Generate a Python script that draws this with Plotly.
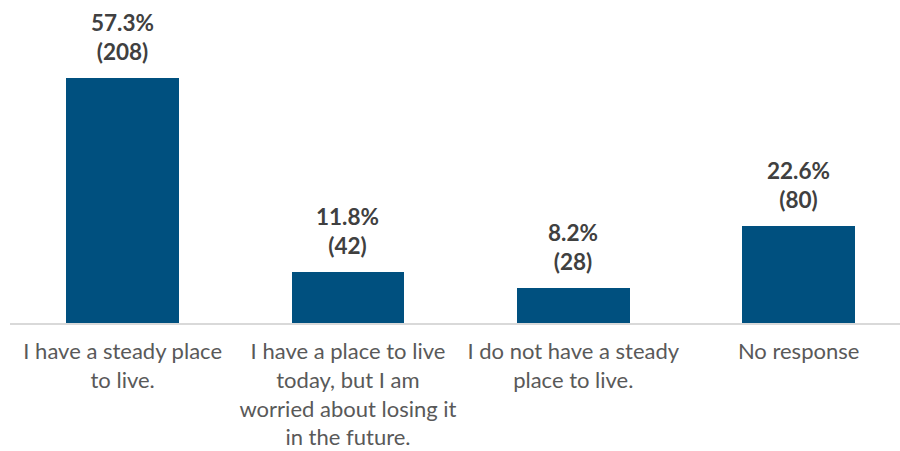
import plotly.graph_objects as go

categories = [
    "I have a steady place<br>to live.",
    "I have a place to live<br>today, but I am<br>worried about losing it<br>in the future.",
    "I do not have a steady<br>place to live.",
    "No response",
]
percents = [57.3, 11.8, 8.2, 22.6]
counts = [208, 42, 28, 80]

fig = go.Figure()
fig.add_trace(go.Bar(
    x=list(range(len(categories))),
    y=percents,
    width=0.5,
    marker=dict(color="#00507F", line=dict(width=0)),
    hoverinfo="skip",
))

for i, (p, c) in enumerate(zip(percents, counts)):
    fig.add_annotation(
        x=i, y=p, xref="x", yref="y",
        text=f"<b>{p:.1f}%<br>({c})</b>",
        showarrow=False, yanchor="bottom", yshift=11,
        font=dict(family="Lato", size=22.5, color="#404040"),
    )

fig.update_layout(
    width=900, height=451,
    margin=dict(l=10, r=0, t=0, b=128),
    plot_bgcolor="white", paper_bgcolor="white",
    showlegend=False,
    bargap=0,
    font=dict(family="Lato", size=22, color="#595959"),
)
fig.update_xaxes(
    tickmode="array",
    tickvals=list(range(len(categories))),
    ticktext=categories,
    range=[-0.5, 3.45],
    showline=True, linecolor="#D9D9D9", linewidth=2,
    showgrid=False, ticks="outside", ticklen=8, tickcolor="rgba(0,0,0,0)",
    tickfont=dict(family="Lato", size=22, color="#595959"),
    tickangle=0, automargin=False,
)
fig.update_yaxes(
    range=[0, 75.4], visible=False, showgrid=False, zeroline=False,
)

fig.write_html("out.html")
